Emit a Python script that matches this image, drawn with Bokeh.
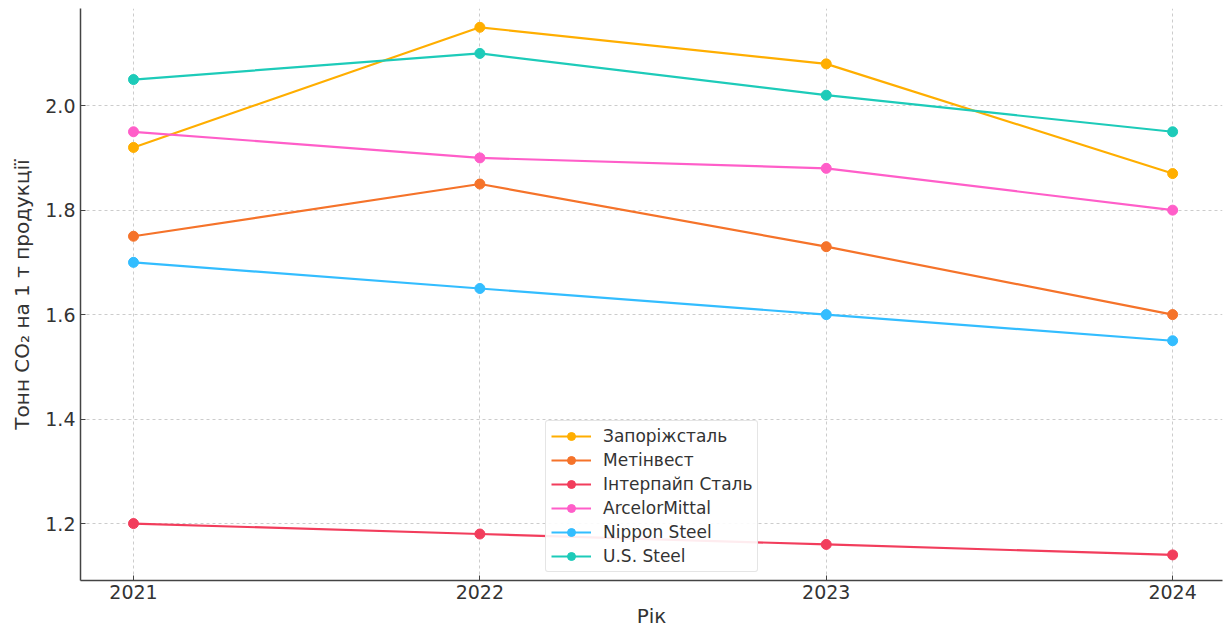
from bokeh.plotting import figure
from bokeh.models import Range1d, FixedTicker, Legend, LegendItem, PrintfTickFormatter
from bokeh.embed import file_html
from bokeh.resources import INLINE

years = [2021, 2022, 2023, 2024]
companies = ["Запоріжсталь", "Метінвест", "Інтерпайп Сталь", "ArcelorMittal", "Nippon Steel", "U.S. Steel"]
zaporizhstal = [1.92, 2.15, 2.08, 1.87]
metinvest = [1.75, 1.85, 1.73, 1.60]
interpipe = [1.20, 1.18, 1.16, 1.14]
arcelormittal = [1.95, 1.90, 1.88, 1.80]
nippon = [1.70, 1.65, 1.60, 1.55]
ussteel = [2.05, 2.10, 2.02, 1.95]
series = [zaporizhstal, metinvest, interpipe, arcelormittal, nippon, ussteel]
colors = ["#FFAE00", "#F5732A", "#F23D5C", "#FF5EC9", "#33BDFF", "#1DCBB9"]
y_ticks = [1.2, 1.4, 1.6, 1.8, 2.0]

FONT = "DejaVu Sans"
TXT = "#333333"

p = figure(width=1228, height=630, output_backend="svg", toolbar_location=None,
           x_range=Range1d(2020.847, 2024.144), y_range=Range1d(1.091, 2.186),
           min_border_left=80, min_border_bottom=50, min_border_top=8, min_border_right=6)
p.outline_line_color = None
p.background_fill_color = "white"

items = []
for name, vals, c in zip(companies, series, colors):
    l = p.line(years, vals, line_color=c, line_width=2.2)
    s = p.scatter(years, vals, size=10, fill_color=c, line_color=c)
    items.append(LegendItem(label=name, renderers=[l, s]))

p.xaxis.ticker = FixedTicker(ticks=years)
p.yaxis.ticker = FixedTicker(ticks=y_ticks)
p.yaxis.formatter = PrintfTickFormatter(format="%.1f")
for ax in (p.xaxis, p.yaxis):
    ax.major_label_text_font = FONT
    ax.major_label_text_font_size = "19px"
    ax.major_label_text_color = TXT
    ax.axis_label_text_font = FONT
    ax.axis_label_text_font_size = "20px"
    ax.axis_label_text_font_style = "normal"
    ax.axis_label_text_color = TXT
    ax.axis_line_color = "#444444"
    ax.axis_line_width = 1.5
    ax.major_tick_line_color = "#444444"
    ax.major_tick_in = 5
    ax.major_tick_out = 0
    ax.minor_tick_line_color = None
p.xaxis.axis_label = "Рік"
p.yaxis.axis_label = "Тонн CO₂ на 1 т продукції"
p.xaxis.major_label_standoff = 4
p.xaxis.axis_label_standoff = 2
p.yaxis.major_label_standoff = 5
p.yaxis.axis_label_standoff = 8

p.grid.grid_line_color = "#cccccc"
p.grid.grid_line_dash = "3 3"
p.grid.grid_line_width = 1

legend = Legend(items=items, location=(465, 8), orientation="vertical")
legend.label_text_font = FONT
legend.label_text_font_size = "17px"
legend.label_text_color = TXT
legend.padding = 5
legend.spacing = 4
legend.label_height = 20
legend.glyph_height = 20
legend.glyph_width = 40
legend.label_standoff = 12
legend.margin = 0
legend.border_line_color = "#cccccc"
legend.border_line_width = 1
legend.border_radius = 3
legend.background_fill_color = "white"
legend.background_fill_alpha = 0.9
p.add_layout(legend, "center")

open("out.html", "w").write(file_html(p, INLINE))
